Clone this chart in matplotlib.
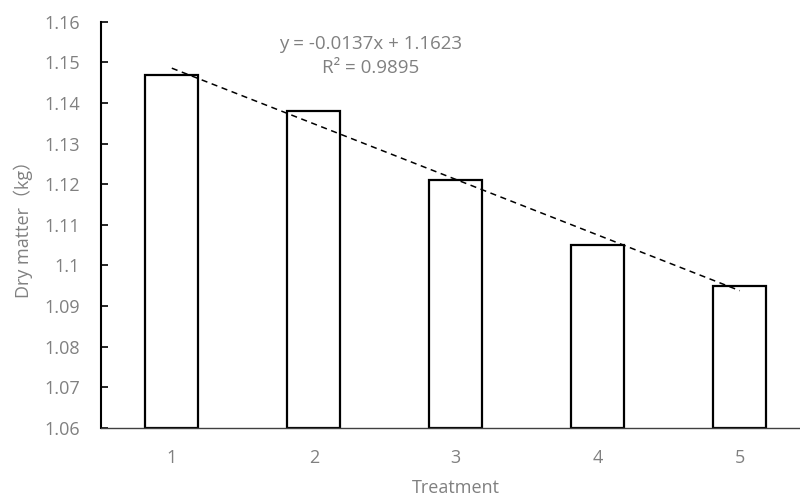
import numpy as np
from matplotlib import pyplot as plt

plt.rcParams['font.family'] = ['Open Sans', 'Noto Sans CJK SC', 'DejaVu Sans']

treatments = [1, 2, 3, 4, 5]
dry_matter = [1.147, 1.138, 1.121, 1.105, 1.095]
y_ticks = [1.06, 1.07, 1.08, 1.09, 1.10, 1.11, 1.12, 1.13, 1.14, 1.15, 1.16]
y_tick_labels = ["1.06", "1.07", "1.08", "1.09", "1.1", "1.11", "1.12",
                 "1.13", "1.14", "1.15", "1.16"]
equation = "y = -0.0137x + 1.1623\nR² = 0.9895"

grey = "#808080"
fs = 13

fig = plt.figure(figsize=(8, 4.97), dpi=100)
ax = fig.add_axes([0.126, 0.139, 0.8875, 0.817])

ax.bar(treatments, [v - 1.06 for v in dry_matter], bottom=1.06, width=0.375,
       color="white", edgecolor="black", linewidth=1.6, zorder=2)

# linear trendline over the data range
coef = np.polyfit(treatments, dry_matter, 1)
xs = np.array([treatments[0], treatments[-1]])
ax.plot(xs, np.polyval(coef, xs), "--", color="black", lw=1.1,
        dashes=(4, 3), zorder=3)

ax.text(2.40, 1.1516, equation, ha="center", va="center", color=grey,
        fontsize=13.5, linespacing=1.4)

ax.set_xlim(0.5, 5.5)
ax.set_ylim(1.06, 1.16)
ax.set_xticks(treatments)
ax.set_yticks(y_ticks)
ax.set_yticklabels(y_tick_labels)
ax.tick_params(axis="x", length=0, pad=15, labelcolor=grey, labelsize=fs)
ax.tick_params(axis="y", direction="in", length=5, width=1.2, pad=15,
               labelcolor=grey, labelsize=fs)

for side in ["top", "right"]:
    ax.spines[side].set_visible(False)
ax.spines["left"].set_linewidth(1.5)
ax.spines["bottom"].set_linewidth(1.0)
ax.spines["bottom"].set_color("#404040")

ax.set_xlabel("Treatment", color=grey, fontsize=fs, labelpad=9)
ax.set_ylabel("Dry matter（kg）", color=grey, fontsize=fs, labelpad=8)

fig.savefig("out.png", dpi=100)
